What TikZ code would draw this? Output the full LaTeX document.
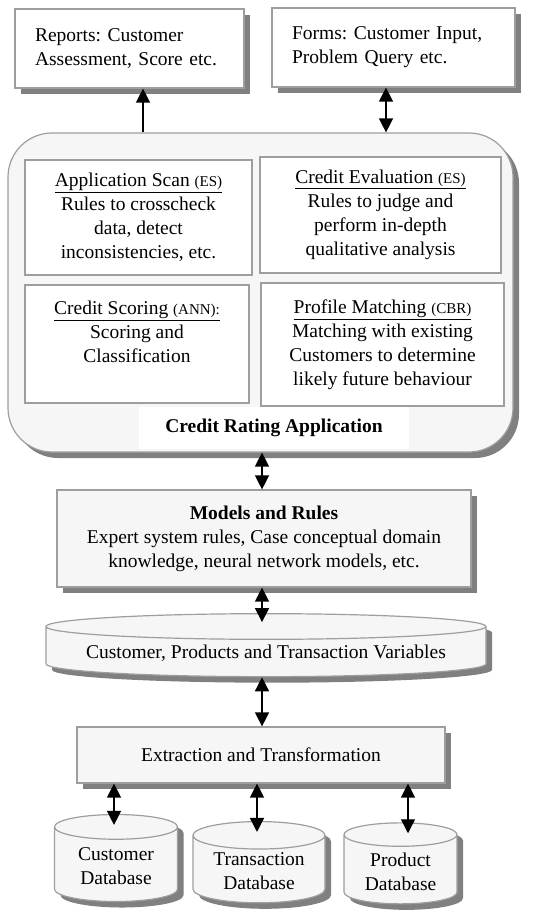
\documentclass[tikz,border=0pt]{standalone}
\usepackage{fontspec}
\setmainfont{Liberation Serif}
\usepackage{xcolor}
\usepackage{tikz}
\usetikzlibrary{arrows.meta}
\usetikzlibrary{shapes.geometric,shadows,positioning,calc}
\frenchspacing

\definecolor{boxline}{gray}{0.62}
\definecolor{boxfill}{gray}{0.965}
\definecolor{shade}{gray}{0.5}
\newcommand{\sm}[1]{{\fontsize{15}{24}\selectfont #1}}

\tikzset{
	shad/.style={drop shadow={shadow xshift=6pt,shadow yshift=-6pt,fill=shade,opacity=1}},
	iobox/.style={draw=boxline,line width=1.2pt,fill=white,shad,align=left,inner xsep=20pt},
	subbox/.style={draw=boxline,line width=1.2pt,fill=white,align=center},
	layer/.style={draw=boxline,line width=1.2pt,fill=boxfill,shad,align=center},
	store/.style={cylinder,shape border rotate=90,draw=boxline,line width=1.2pt,fill=boxfill,shad,align=center},
	arr/.style={line width=1.4pt,-{Triangle[width=14pt,length=14pt]}},
	darr/.style={line width=1.4pt,{Triangle[width=14pt,length=14pt]}-{Triangle[width=14pt,length=14pt]}}
}

\begin{document}
\begin{tikzpicture}[x=1pt,y=-1pt,every node/.style={font=\fontsize{19.5}{24}\selectfont}]
			\useasboundingbox (0,0) rectangle (545,920);
			% output side
			\node[iobox,text width=189,minimum height=79] (reports) at (129.5,48.5) {Reports: Customer\\Assessment, Score etc.};
			\node[iobox,text width=203,minimum height=79] (forms) at (393.5,47.5) {Forms: Customer Input,\\Problem Query etc.};
			% application
			\node[draw=boxline,line width=1.2pt,fill=boxfill,shad,rounded corners=44pt,minimum width=505,minimum height=319] (app) at (260.5,292.5) {};
			\node[subbox,minimum width=227,minimum height=115] (scan) at (138.5,217.5) {\underline{Application Scan \sm{(ES)}}\\Rules to crosscheck\\data, detect\\inconsistencies, etc.};
			\node[subbox,minimum width=241,minimum height=116] (eval) at (380.5,215) {\underline{Credit Evaluation \sm{(ES)}}\\Rules to judge and\\perform in-depth\\qualitative analysis};
			\node[subbox,minimum width=224,minimum height=118] (scoring) at (137,344) {\underline{Credit Scoring \sm{(ANN):}}\\Scoring and\\Classification\\ \mbox{}};
			\node[subbox,minimum width=243,minimum height=123] (profile) at (382.5,344.5) {\underline{Profile Matching \sm{(CBR)}}\\Matching with existing\\Customers to determine\\likely future behaviour};
			\node[fill=white,minimum width=270,minimum height=42,font=\fontsize{19.5}{24}\selectfont\bfseries] (applabel) at (274,428) {Credit Rating Application};
			% data side
			\node[layer,minimum width=414,minimum height=97] (models) at (264,538.5) {\textbf{Models and Rules}\\Expert system rules, Case conceptual domain\\knowledge, neural network models, etc.};
			\node[store,minimum width=440,minimum height=63,aspect=0.07] (vars) at (266,653) {Customer, Products and Transaction Variables};
			\node[layer,minimum width=368,minimum height=56] (extract) at (261,755) {Extraction and Transformation};
			\node[store,minimum width=123,minimum height=87,aspect=0.3] (custdb) at (116,866.5) {Customer\\Database};
			\node[store,minimum width=132,minimum height=81,aspect=0.28] (transdb) at (259,871.5) {Transaction\\Database};
			\node[store,minimum width=113,minimum height=81,aspect=0.3] (proddb) at (400.5,871.5) {Product\\Database};
			% connectors
			\draw[arr] (143,0 |- app.north) -- (143,0 |- reports.south);
			\draw[darr] (386,0 |- forms.south) -- (386,0 |- app.north);
			\draw[darr] (262,0 |- app.south) -- (262,0 |- models.north);
			\draw[darr,shorten >=-9pt] (262,0 |- models.south) -- (262,0 |- vars.north);
			\draw[darr] (262,0 |- vars.south) -- (262,0 |- extract.north);
			\draw[darr,shorten >=-11pt] (114,0 |- extract.south) -- (114,0 |- custdb.north);
			\draw[darr,shorten >=-11pt] (257,0 |- extract.south) -- (257,0 |- transdb.north);
			\draw[darr,shorten >=-11pt] (408,0 |- extract.south) -- (408,0 |- proddb.north);
		\end{tikzpicture}
\end{document}
